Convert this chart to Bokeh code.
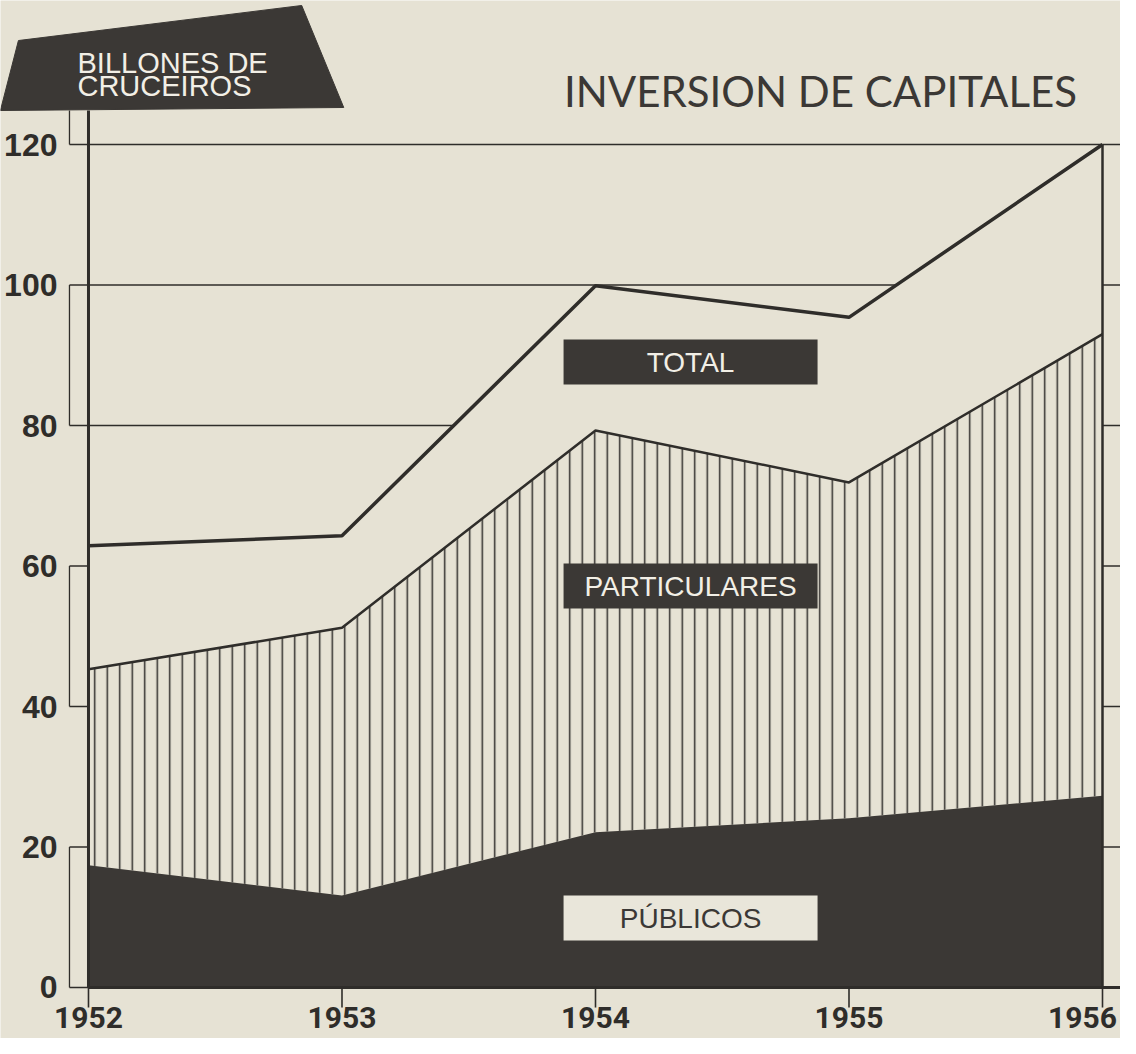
from bokeh.plotting import figure
from bokeh.models import Range1d
from bokeh.core.properties import value
from bokeh.embed import file_html
from bokeh.resources import INLINE

# ---- data (billones de cruceiros) ----
years = [1952, 1953, 1954, 1955, 1956]
publicos = [17.4, 13.1, 22.1, 24.1, 27.3]
particulares = [27.9, 38.1, 57.2, 47.8, 65.7]
total = [62.9, 64.3, 99.9, 95.4, 120.0]
y_ticks = [0, 20, 40, 60, 80, 100, 120]
y_tick_labels = ["0", "20", "40", "60", "80", "100", "120"]
x_tick_labels = ["1952", "1953", "1954", "1955", "1956"]
title_text = "INVERSION DE CAPITALES"
unit_lines = ["BILLONES DE", "CRUCEIROS"]
series_labels = ["TOTAL", "PARTICULARES", "PÚBLICOS"]

# ---- styles ----
PAPER = "#e6e2d4"
DARK = "#3b3835"
INK = "#2f2d2a"

X0, X1 = 1951.6529, 1956.0710
Y0, Y1 = -7.26, 140.5

stack_top = [a + b for a, b in zip(publicos, particulares)]

p = figure(width=1120, height=1038, x_range=Range1d(X0, X1), y_range=Range1d(Y0, Y1),
           output_backend="svg", toolbar_location=None,
           x_axis_location=None, y_axis_location=None,
           min_border=0, min_border_left=0, min_border_right=0,
           min_border_top=0, min_border_bottom=0)
p.outline_line_color = None
p.background_fill_color = PAPER
p.border_fill_color = PAPER
for g in p.grid:
    g.visible = False

BOX_L = 1951.925
AXIS_TOP = 124.84

# grid / box decoration lines
p.segment(x0=[BOX_L] * len(y_ticks), y0=y_ticks, x1=[X1] * len(y_ticks), y1=y_ticks,
          line_color=INK, line_width=1.3)
p.segment(x0=[BOX_L] * 4, y0=y_ticks[0::2], x1=[BOX_L] * 4,
          y1=[y_ticks[1], y_ticks[3], y_ticks[5], AXIS_TOP],
          line_color=INK, line_width=1.3)

# area under total (blank paper)
p.varea(x=years, y1=[0] * len(years), y2=total, fill_color=PAPER)
# particulares (hatched)
p.varea(x=years, y1=publicos, y2=stack_top, fill_color=PAPER,
        hatch_pattern="|", hatch_color=INK, hatch_weight=1.5, hatch_scale=12.5)
# publicos (dark)
p.varea(x=years, y1=[0] * len(years), y2=publicos, fill_color=DARK)

p.line(years, stack_top, line_color=INK, line_width=2.5)
p.line(years, total, line_color=INK, line_width=3.5)

# axes frame lines
p.segment(x0=[years[0]], y0=[0], x1=[years[0]], y1=[AXIS_TOP], line_color=INK, line_width=3)
p.segment(x0=[years[0]], y0=[0], x1=[X1], y1=[0], line_color=INK, line_width=3)
p.segment(x0=[years[-1]], y0=[0], x1=[years[-1]], y1=[y_ticks[-1]], line_color=INK, line_width=2.5)

# x ticks
p.segment(x0=years, y0=[0] * len(years), x1=years, y1=[-2.85] * len(years),
          line_color=INK, line_width=1.6)
p.text(x=years, y=[-4.2] * len(years), text=x_tick_labels,
       x_offset=[0, 0, 0, 0, -20],
       text_font=value("Roboto"), text_font_style="bold",
       text_font_size="30px", text_color=INK, text_align="center",
       text_baseline="middle")

# y tick labels
p.text(x=[1951.8777] * len(y_ticks), y=y_ticks, text=y_tick_labels,
       text_font=value("Liberation Sans"), text_font_style="bold",
       text_font_size="32px", text_color=INK, text_align="right",
       text_baseline="middle")

# unit header trapezoid
p.patch(x=[1951.6525, 1951.7236, 1952.8411, 1953.0069],
        y=[124.84, 134.80, 139.79, 125.27], fill_color=DARK, line_color=DARK)
p.text(x=[1951.9566, 1951.9566], y=[131.67, 128.40], text=unit_lines,
       text_font=value("Liberation Sans"), text_font_size="29px",
       text_color="#f2efe6", text_align="left", text_baseline="middle")

# title
p.text(x=[1954.8876], y=[127.62], text=[title_text],
       text_font=value("Lato"), text_font_size="42px", text_color=DARK,
       text_align="center", text_baseline="middle")

# series label boxes
LX = 1954.375
label_y = [89.04, 57.15, 9.89]
p.rect(x=[LX] * 3, y=label_y, width=254, height=45, width_units="screen",
       height_units="screen", fill_color=[DARK, DARK, "#e9e6da"], line_color=None)
p.text(x=[LX] * 3, y=label_y, text=series_labels,
       text_font=value("Liberation Sans"), text_font_size="28px",
       text_color=["#f2efe6", "#f2efe6", DARK], text_align="center",
       text_baseline="middle")

open("out.html", "w").write(file_html(p, INLINE))
